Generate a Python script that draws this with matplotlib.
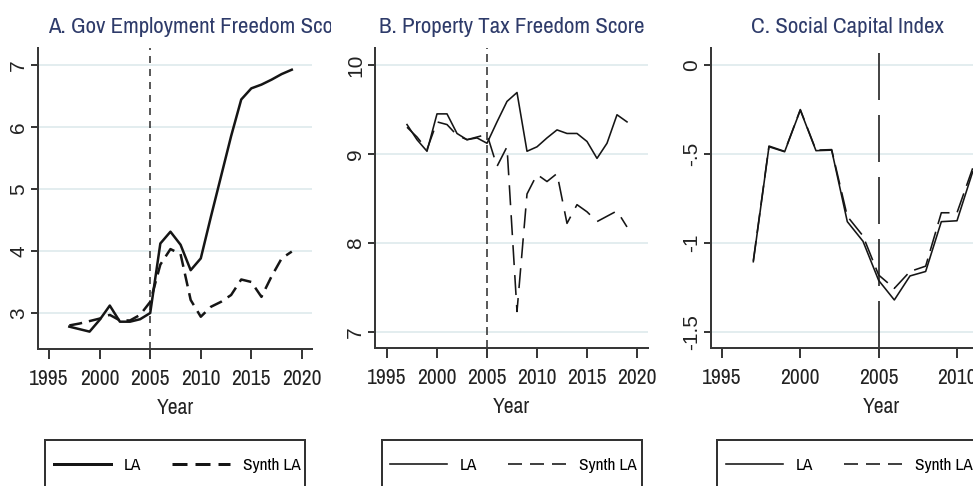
import matplotlib
matplotlib.use("Agg")
import matplotlib.pyplot as plt
from matplotlib import font_manager
from matplotlib.lines import Line2D
from matplotlib.patches import Rectangle
from matplotlib.transforms import Bbox, TransformedBbox

# ---------------- data ----------------
years_A = list(range(1997, 2020))
la_A = [2.78, 2.74, 2.70, 2.89, 3.12, 2.86, 2.86, 2.90, 3.00, 4.12, 4.31, 4.10,
        3.69, 3.88, 4.55, 5.20, 5.85, 6.44, 6.62, 6.68, 6.76, 6.85, 6.92]
synth_A = [2.80, 2.83, 2.87, 2.91, 2.97, 2.88, 2.88, 2.97, 3.18, 3.78, 4.03, 3.95,
           3.21, 2.94, 3.10, 3.18, 3.29, 3.54, 3.50, 3.26, 3.59, 3.88, 3.99]

years_B = list(range(1997, 2020))
la_B = [9.33, 9.16, 9.03, 9.45, 9.45, 9.23, 9.16, 9.18, 9.12, 9.36, 9.59, 9.69,
        9.03, 9.08, 9.18, 9.27, 9.23, 9.23, 9.14, 8.95, 9.12, 9.44, 9.36]
synth_B = [9.30, 9.19, 9.05, 9.36, 9.33, 9.21, 9.16, 9.19, 9.22, 8.86, 9.08, 7.23,
           8.55, 8.77, 8.69, 8.78, 8.22, 8.43, 8.35, 8.24, 8.30, 8.36, 8.18]

years_C = list(range(1997, 2012))
la_C = [-1.105, -0.459, -0.487, -0.253, -0.481, -0.478, -0.88, -0.99, -1.21,
        -1.32, -1.185, -1.16, -0.88, -0.875, -0.60]
synth_C = [-1.10, -0.455, -0.485, -0.25, -0.478, -0.475, -0.85, -0.96, -1.18,
           -1.255, -1.16, -1.13, -0.83, -0.83, -0.58]

titles = ["A. Gov Employment Freedom Score", "B. Property Tax Freedom Score",
          "C. Social Capital Index"]
xticks = [1995, 2000, 2005, 2010, 2015, 2020]
yticks_A = [3, 4, 5, 6, 7]
yticks_B = [7, 8, 9, 10]
yticks_C = [0, -0.5, -1, -1.5]
yticklabels_C = ["0", "-.5", "-1", "-1.5"]
legend_labels = ["LA", "Synth LA"]
treat_year = 2005

# ---------------- style ----------------
names = {f.name for f in font_manager.fontManager.ttflist}
fam = "Liberation Sans"
for cand in ["Archivo Narrow", "Liberation Sans Narrow", "Roboto Condensed", "PT Sans Narrow"]:
    if cand in names:
        fam = cand
        break
plt.rcParams["font.family"] = [fam, "DejaVu Sans"]
plt.rcParams["lines.scale_dashes"] = False
YFAM = ["Liberation Sans", "DejaVu Sans"]

W, H = 973, 486
fig = plt.figure(figsize=(W / 100, H / 100), dpi=100)
fig.patch.set_facecolor("white")

def box(l, t, r, b):
    return [l / W, 1 - b / H, (r - l) / W, (b - t) / H]

PX = 0.72  # points per pixel
spine_col = "#383838"
line_col = "#151515"
title_col = "#2e3b6a"
grid_col = "#e3edef"
TICK_FS = 15.5

def style_axes(ax, xlim, ylim, yticks, ylabels):
    ax.set_xticks(xticks)
    ax.set_xticklabels([str(x) for x in xticks], fontsize=TICK_FS, color="#222222")
    ax.set_yticks(yticks)
    ax.set_yticklabels(ylabels, rotation=90, va="center", fontsize=15,
                       color="#222222", family=YFAM)
    ax.set_xlim(*xlim)
    ax.set_ylim(*ylim)
    for s in ["top", "right"]:
        ax.spines[s].set_visible(False)
    for s in ["left", "bottom"]:
        ax.spines[s].set_color(spine_col)
        ax.spines[s].set_linewidth(2 * PX)
    ax.tick_params(axis="x", length=10 * PX, width=2 * PX, color=spine_col, pad=7.5)
    ax.tick_params(axis="y", length=7 * PX, width=2 * PX, color=spine_col, pad=2)
    ax.yaxis.grid(True, color=grid_col, lw=2 * PX)
    ax.set_axisbelow(True)
    ax.set_xlabel("Year", fontsize=TICK_FS, color="#222222", labelpad=6.5)

axA = fig.add_axes(box(38, 48, 312, 349))
axB = fig.add_axes(box(375, 48, 648, 348))
axC = fig.add_axes(box(711, 48, 1051, 348))

style_axes(axA, (1993.9, 2021.0), (2.42, 7.27), yticks_A, [str(v) for v in yticks_A])
style_axes(axB, (1993.8, 2021.1), (6.82, 10.19), yticks_B, [str(v) for v in yticks_B])
style_axes(axC, (1994.3, 2016.0), (-1.59, 0.096), yticks_C, yticklabels_C)

# Panel A
axA.axvline(treat_year, color="#333333", lw=1.6 * PX, dashes=(7 * PX, 6 * PX))
axA.plot(years_A, la_A, color=line_col, lw=2.5 * PX)
axA.plot(years_A, synth_A, color=line_col, lw=2.5 * PX, dashes=(13 * PX, 7 * PX))

# Panel B
axB.axvline(treat_year, color="#333333", lw=1.6 * PX, dashes=(8 * PX, 5 * PX))
axB.plot(years_B, la_B, color=line_col, lw=1.6 * PX)
axB.plot(years_B, synth_B, color=line_col, lw=1.6 * PX, dashes=(20 * PX, 10 * PX))

# Panel C
axC.axvline(treat_year, color="#333333", lw=1.8 * PX, dashes=(47 * PX, 15 * PX))
axC.plot(years_C, la_C, color=line_col, lw=1.6 * PX)
axC.plot(years_C, synth_C, color=line_col, lw=1.6 * PX, dashes=(20 * PX, 8 * PX))

# Titles
TITLE_FS = 16.5
tA = fig.text(48 / W, 1 - 27 / H, titles[0], ha="left", va="center", fontsize=TITLE_FS, color=title_col)
tA.set_clip_box(TransformedBbox(Bbox([[0, 0], [331 / W, 1]]), fig.transFigure))
tA.set_clip_on(True)
fig.text(512 / W, 1 - 27 / H, titles[1], ha="center", va="center", fontsize=TITLE_FS, color=title_col)
fig.text(847 / W, 1 - 27 / H, titles[2], ha="center", va="center", fontsize=TITLE_FS, color=title_col)

# Legends
def add_legend(ax, left, right, cx, lw, dash):
    fig.add_artist(Rectangle((left / W, 1 - 495 / H), (right - left) / W, 55 / H,
                             transform=fig.transFigure, fill=False,
                             edgecolor="#333333", lw=2 * PX, clip_on=False))
    handles = [Line2D([], [], color=line_col, lw=lw),
               Line2D([], [], color=line_col, lw=lw, dashes=dash)]
    ax.legend(handles, legend_labels, loc="center", bbox_to_anchor=(cx / W, 1 - 465 / H),
              bbox_transform=fig.transFigure, ncol=2, frameon=False, fontsize=12.5,
              handlelength=3.3, handletextpad=0.75, columnspacing=1.8,
              borderpad=0, borderaxespad=0)

add_legend(axA, 45, 305, 177, 3 * PX, (15 * PX, 8 * PX))
add_legend(axB, 382, 642, 513, 1.6 * PX, (14 * PX, 8 * PX))
add_legend(axC, 717, 977, 849, 1.6 * PX, (14 * PX, 8 * PX))

fig.savefig("out.png", dpi=100)
